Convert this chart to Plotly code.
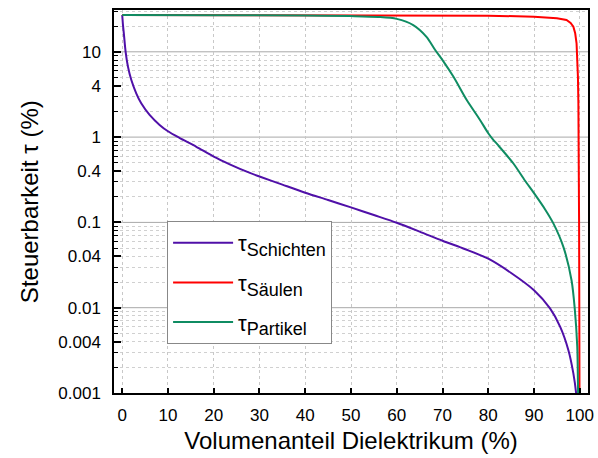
import plotly.graph_objects as go

# Volume fraction of dielectric (%) and tunability (%) for the three composite geometries
vol_schichten = [0, 0.15, 0.37, 0.74, 1.25, 1.97, 3.06, 4.15, 5.98, 8.17, 10, 12.5,
                 16.2, 20, 23.5, 27.9, 30, 35, 40, 45, 50, 55, 60, 65, 70, 75, 80,
                 85, 90, 93.5, 95.7, 97.5, 98.6, 99.2, 99.6]
tau_schichten = [27, 21, 16, 10, 6.7, 4.7, 3.26, 2.49, 1.82, 1.39, 1.17, 0.98,
                 0.77, 0.59, 0.48, 0.38, 0.345, 0.277, 0.223, 0.183, 0.150, 0.122,
                 0.099, 0.078, 0.061, 0.0485, 0.0375, 0.0255, 0.016, 0.0098, 0.006,
                 0.0032, 0.0017, 0.001, 0.0005]

vol_saeulen = [0, 50, 80, 90, 92.8, 95, 97.1, 98, 98.6, 99, 99.3, 99.5, 99.6, 99.7,
               99.75, 99.8, 99.85, 99.9, 99.95]
tau_saeulen = [27, 26.9, 26.5, 25.8, 25.4, 24.8, 23.6, 21.8, 19.7, 16.5, 12.6, 8.2,
               5.1, 2.5, 1.2, 0.5, 0.1, 0.01, 0.0005]

vol_partikel = [0, 20, 40, 50, 56, 60, 63.6, 66.5, 68.4, 70, 72.4, 75.3, 78.2, 80,
                81.1, 82, 85.5, 88, 90, 92.5, 94.2, 96.4, 98.2, 98.9, 99.45, 99.6, 99.7]
tau_partikel = [27, 26.9, 26.6, 26.2, 25.6, 24.3, 20.6, 15, 10.5, 8.0, 5.1, 2.72, 1.59,
                1.11, 0.93, 0.82, 0.49, 0.31, 0.22, 0.14, 0.098, 0.052, 0.021, 0.0098,
                0.0035, 0.0013, 0.0006]

x_ticks = [0, 10, 20, 30, 40, 50, 60, 70, 80, 90, 100]
y_ticks = [0.001, 0.004, 0.01, 0.04, 0.1, 0.4, 1, 4, 10]
y_ticktext = ["0.001", "0.004", "0.01", "0.04", "0.1", "0.4", "1", "4", "10"]
decades = [0.01, 0.1, 1, 10]

FONT = "Arial, Liberation Sans, sans-serif"


def label(sub):
    return f"τ<sub><span style='font-size:18px'>{sub}</span></sub>"


series = [
    (label("Schichten"), vol_schichten, tau_schichten, "#5010a8", "spline"),
    (label("Säulen"), vol_saeulen, tau_saeulen, "#ff0000", "linear"),
    (label("Partikel"), vol_partikel, tau_partikel, "#0f8c62", "spline"),
]

fig = go.Figure()
for i, (name, xs, ys, color, shape) in enumerate(series):
    fig.add_trace(go.Scatter(
        x=xs, y=ys, mode="lines", name=name, legendgroup=f"g{i}",
        line=dict(color=color, width=2, shape=shape, smoothing=0.8),
    ))

# minor grid positions: 2..9 within each decade
minor_vals = [d * 10 ** k for k in range(-3, 2) for d in range(2, 10)]

# solid decade grid lines
for d in decades:
    fig.add_shape(type="line", xref="paper", x0=0, x1=1, yref="y", y0=d, y1=d,
                  line=dict(color="#a8a8a8", width=1), layer="below")

fig.update_xaxes(
    range=[-1.8, 101.8], tickmode="array", tickvals=x_ticks, automargin=False,
    ticks="inside", ticklen=5, tickwidth=1.5, tickcolor="black",
    showline=True, linecolor="black", linewidth=1.5, mirror=True,
    showgrid=True, gridcolor="#c8c8c8", griddash="dot", gridwidth=1,
    zeroline=False, tickfont=dict(family=FONT, size=17, color="black"),
    ticklabelstandoff=6,
    title=dict(text="Volumenanteil Dielektrikum (%)",
               font=dict(family=FONT, size=24, color="black"), standoff=8),
)
fig.update_yaxes(
    type="log", range=[-3, 1.49], tickmode="array", tickvals=y_ticks,
    ticktext=y_ticktext, ticks="inside", ticklen=7, tickwidth=1.5, automargin=False,
    tickcolor="black", showline=True, linecolor="black", linewidth=1.5,
    mirror=True, showgrid=False, zeroline=False,
    tickfont=dict(family=FONT, size=17, color="black"), ticklabelstandoff=8,
    minor=dict(tickmode="array", tickvals=minor_vals, ticks="inside", ticklen=4,
               tickwidth=1.2, tickcolor="black", showgrid=True,
               gridcolor="#d0d0d0", griddash="dot", gridwidth=1),
)

fig.add_annotation(
    text="Steuerbarkeit τ (%)", textangle=-90, xref="paper", yref="paper",
    x=-0.178, y=0.5, xanchor="center", yanchor="middle", showarrow=False,
    font=dict(family=FONT, size=24, color="black"),
)

fig.update_layout(
    width=598, height=458,
    margin=dict(l=114, r=10, t=10, b=65, autoexpand=False),
    paper_bgcolor="white", plot_bgcolor="white",
    showlegend=True,
    legend=dict(
        x=0.112, y=0.449, xanchor="left", yanchor="top",
        bgcolor="white", bordercolor="#888888", borderwidth=1,
        font=dict(family=FONT, size=22, color="black"),
        tracegroupgap=8, itemwidth=60,
    ),
)

fig.write_html("out.html")
